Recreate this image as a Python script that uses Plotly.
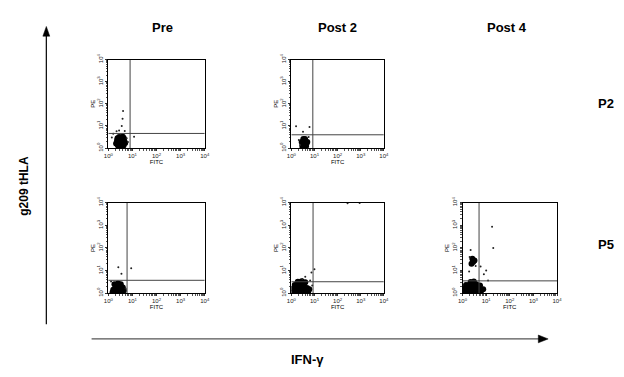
import plotly.graph_objects as go

W, H = 624, 377

# ---------------- data (fluorescence intensities, log scale) ----------------
col_titles = ["Pre", "Post 2", "Post 4"]
row_titles = ["P2", "P5"]
tick_vals = [1, 10, 100, 1000, 10000]
tick_text = ["10<sup>0</sup>", "10<sup>1</sup>", "10<sup>2</sup>", "10<sup>3</sup>", "10<sup>4</sup>"]
minor_vals = [2, 3, 4, 5, 6, 7, 8, 9, 20, 30, 40, 50, 60, 70, 80, 90,
              200, 300, 400, 500, 600, 700, 800, 900, 2000, 3000, 4000, 5000, 6000, 7000, 8000, 9000]

# Pre / P2
p1_core_x = [3.3, 2.6, 4.1, 2.9, 3.8, 2.3, 4.6, 3.1, 3.6, 2.5, 4.3, 3.4, 2.8, 4.0, 2.1, 5.0, 3.0, 3.7, 2.4, 4.4]
p1_core_y = [2.0, 1.7, 1.6, 2.5, 2.6, 2.2, 2.1, 1.3, 1.4, 1.3, 1.3, 3.0, 3.2, 3.3, 1.6, 1.7, 1.1, 1.1, 2.8, 2.8]
p1_dot_x = [4.1, 3.9, 3.6, 2.8, 11.7, 1.6, 5.8, 6.5, 1.4, 2.2, 4.8]
p1_dot_y = [47, 21, 10, 6.3, 3.3, 4.5, 2.8, 1.9, 3.0, 5.8, 6.0]
p1_gate = (8.0, 4.6)

# Post 2 / P2
p2_core_x = [3.7, 3.1, 4.4, 3.4, 4.0, 2.8, 4.9, 3.6, 3.0, 4.3, 3.9, 3.3]
p2_core_y = [1.7, 1.4, 1.5, 2.2, 2.3, 1.9, 1.9, 1.2, 1.15, 1.2, 2.6, 2.6]
p2_dot_x = [1.6, 6.1, 3.2, 2.1, 5.6, 2.4]
p2_dot_y = [9.7, 9.1, 5.5, 2.3, 3.2, 1.4]
p2_gate = (8.5, 4.0)

# Pre / P5
p3_core_x = [2.6, 1.6, 2.0, 3.2, 4.0, 2.3, 1.5, 3.6, 2.9, 1.8, 4.4, 2.5, 3.3]
p3_core_y = [1.8, 1.4, 2.1, 1.5, 1.8, 1.2, 1.1, 1.15, 2.4, 2.5, 1.3, 2.7, 2.5]
p3_dot_x = [2.6, 8.9, 3.5, 5.2, 1.3]
p3_dot_y = [14, 12.7, 7.2, 1.6, 3.3]
p3_gate = (6.0, 3.7)

# Post 2 / P5
p4_core_x = [1.3, 1.8, 2.5, 3.3, 4.2, 5.4, 1.2, 1.6, 2.2, 2.9, 3.7, 4.8, 1.4, 2.0, 2.7, 3.6, 1.9, 2.8, 4.0, 6.0]
p4_core_y = [1.1, 1.1, 1.1, 1.1, 1.15, 1.2, 1.6, 1.6, 1.6, 1.6, 1.7, 1.7, 2.3, 2.4, 2.5, 2.6, 3.2, 3.4, 3.0, 1.5]
p4_dot_x = [4.0, 7.4, 10, 3.0, 6.5, 8.0, 270, 900]
p4_dot_y = [5.3, 8.2, 11.4, 4.2, 3.6, 2.2, 9500, 9600]
p4_gate = (8.7, 3.2)

# Post 4 / P5
p5_core_x = [1.2, 1.7, 2.4, 3.3, 4.4, 6.0, 1.3, 1.8, 2.5, 3.4, 4.6, 1.4, 2.0, 2.8, 3.8, 2.2, 3.0, 7.5, 5.5,
             2.4, 2.8, 3.2, 2.6]
p5_core_y = [1.1, 1.1, 1.1, 1.1, 1.15, 1.2, 1.6, 1.6, 1.6, 1.7, 1.7, 2.3, 2.4, 2.4, 2.5, 3.1, 3.3, 1.5, 2.2,
             20, 24, 28, 33]
p5_dot_x = [17.8, 20, 10, 5.8, 8.0, 1.9, 2.2, 2.0, 3.6, 12]
p5_dot_y = [870, 100, 10, 15, 6.9, 9.1, 81, 40, 16, 3.6]
p5_gate = (5.0, 3.5)

panels = [
    # (col, row, core_x, core_y, dot_x, dot_y, gate)
    (0, 0, p1_core_x, p1_core_y, p1_dot_x, p1_dot_y, p1_gate),
    (1, 0, p2_core_x, p2_core_y, p2_dot_x, p2_dot_y, p2_gate),
    (0, 1, p3_core_x, p3_core_y, p3_dot_x, p3_dot_y, p3_gate),
    (1, 1, p4_core_x, p4_core_y, p4_dot_x, p4_dot_y, p4_gate),
    (2, 1, p5_core_x, p5_core_y, p5_dot_x, p5_dot_y, p5_gate),
]

# ---------------- layout geometry (pixels) ----------------
col_px = [(105, 203), (291, 385), (465, 561)]
row_px = [(55, 146), (202, 295)]

def px_x(v):
    return v / W

def px_y(v):
    return 1 - v / H

FONT = "Liberation Sans, Arial, sans-serif"

fig = go.Figure()
layout = dict(
    width=W, height=H, margin=dict(l=0, r=0, t=0, b=0),
    paper_bgcolor="white", plot_bgcolor="white", showlegend=False,
    font=dict(family=FONT, color="black"),
)

for i, (c, r, cx, cy, dx, dy, gate) in enumerate(panels):
    n = i + 1
    xa = "x" if n == 1 else f"x{n}"
    ya = "y" if n == 1 else f"y{n}"
    fig.add_trace(go.Scatter(x=cx, y=cy, mode="markers", xaxis=xa, yaxis=ya,
                             marker=dict(color="black", size=6, line=dict(width=0)),
                             hoverinfo="skip"))
    fig.add_trace(go.Scatter(x=dx, y=dy, mode="markers", xaxis=xa, yaxis=ya,
                             marker=dict(color="#222", size=2, line=dict(width=0)),
                             hoverinfo="skip"))
    gx, gy = gate
    fig.add_trace(go.Scatter(x=[gx, gx], y=[1, 10000], mode="lines", xaxis=xa, yaxis=ya,
                             line=dict(color="#444", width=1), hoverinfo="skip"))
    fig.add_trace(go.Scatter(x=[1, 10000], y=[gy, gy], mode="lines", xaxis=xa, yaxis=ya,
                             line=dict(color="#444", width=1), hoverinfo="skip"))
    x0, x1 = col_px[c]
    y0, y1 = row_px[r]
    common = dict(type="log", range=[0, 4], showgrid=False, zeroline=False,
                  showline=True, linecolor="black", linewidth=1, mirror=True,
                  tickmode="array", tickvals=tick_vals, ticktext=tick_text,
                  ticks="outside", ticklen=2, tickwidth=1, tickcolor="#333",
                  minor=dict(tickmode="array", tickvals=minor_vals, ticks="outside",
                             ticklen=1.5, tickwidth=1, tickcolor="#555", showgrid=False),
                  tickfont=dict(size=6, family=FONT, color="#222"))
    layout["xaxis" if n == 1 else f"xaxis{n}"] = dict(
        common, domain=[px_x(x0), px_x(x1)], anchor=ya,
        title=dict(text="FITC", font=dict(size=6, family=FONT), standoff=0))
    layout["yaxis" if n == 1 else f"yaxis{n}"] = dict(
        common, domain=[px_y(y1), px_y(y0)], anchor=xa, tickangle=-90,
        title=dict(text="PE", font=dict(size=6, family=FONT), standoff=0))

fig.update_layout(**layout)

annots = []
col_centers = [160, 338, 510]
for t, cxp in zip(col_titles, col_centers):
    annots.append(dict(text=f"<b>{t}</b>", x=px_x(cxp), y=px_y(22), xref="paper", yref="paper",
                       showarrow=False, font=dict(size=13, family=FONT), xanchor="center", yanchor="middle"))
for t, cyp in zip(row_titles, [100, 245]):
    annots.append(dict(text=f"<b>{t}</b>", x=px_x(611), y=px_y(cyp), xref="paper", yref="paper",
                       showarrow=False, font=dict(size=13, family=FONT), xanchor="center", yanchor="middle"))
annots.append(dict(text="<b>g209 tHLA</b>", x=px_x(19), y=px_y(185), xref="paper", yref="paper",
                   showarrow=False, textangle=-90, font=dict(size=12, family=FONT),
                   xanchor="center", yanchor="middle"))
annots.append(dict(text="<b>IFN-γ</b>", x=px_x(307), y=px_y(363), xref="paper", yref="paper",
                   showarrow=False, font=dict(size=13, family=FONT), xanchor="center", yanchor="middle"))

shapes = []
# vertical axis arrow
shapes.append(dict(type="line", xref="paper", yref="paper", x0=px_x(42), x1=px_x(42),
                   y0=px_y(327), y1=px_y(30), line=dict(color="black", width=1.2)))
shapes.append(dict(type="path", xref="paper", yref="paper",
                   path=f"M {px_x(42)} {px_y(21)} L {px_x(38.5)} {px_y(31)} L {px_x(45.5)} {px_y(31)} Z",
                   fillcolor="black", line=dict(color="black", width=0.5)))
# horizontal axis arrow
shapes.append(dict(type="line", xref="paper", yref="paper", x0=px_x(88), x1=px_x(543),
                   y0=px_y(342), y1=px_y(342), line=dict(color="#555", width=1.2)))
shapes.append(dict(type="path", xref="paper", yref="paper",
                   path=f"M {px_x(552)} {px_y(342)} L {px_x(542)} {px_y(338)} L {px_x(542)} {px_y(346)} Z",
                   fillcolor="black", line=dict(color="black", width=0.5)))

fig.update_layout(annotations=annots, shapes=shapes)
fig.write_html("out.html")
